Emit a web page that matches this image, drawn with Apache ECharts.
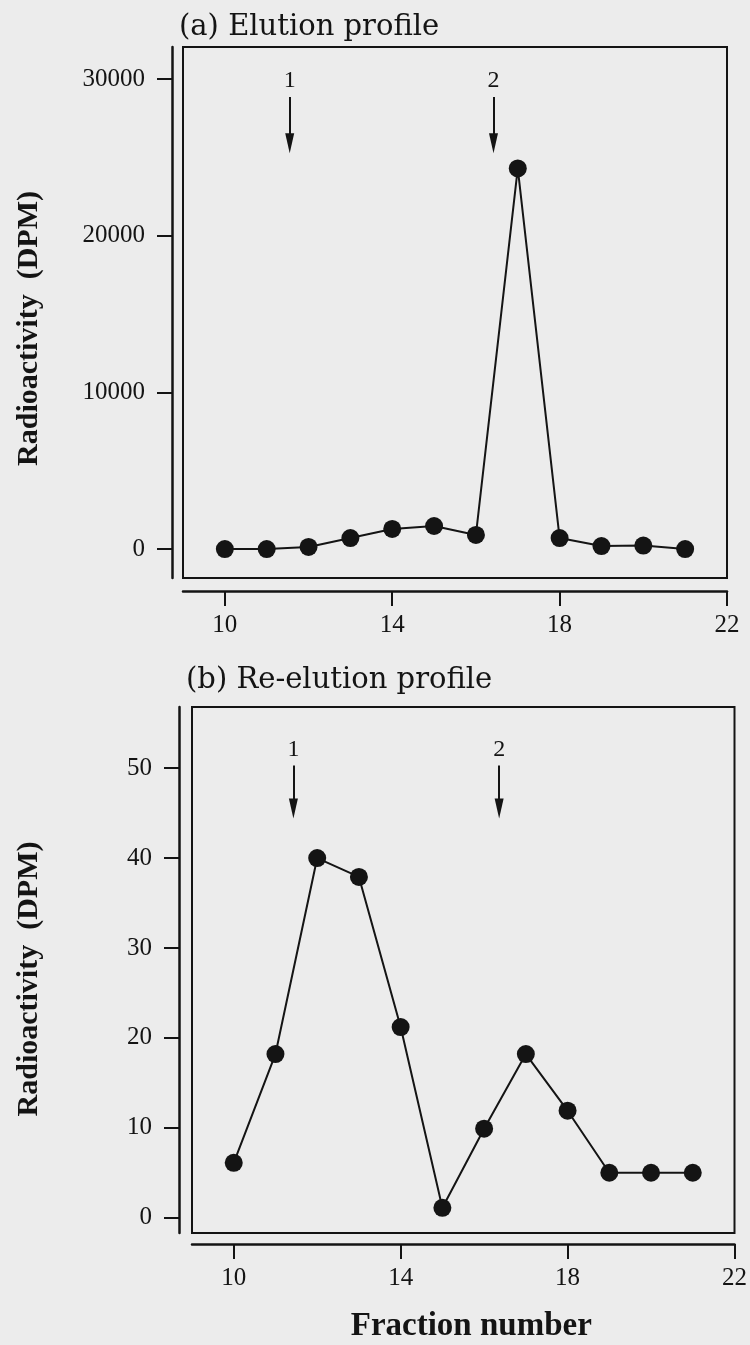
<!DOCTYPE html>
<html><head><meta charset="utf-8">
<script src="https://cdn.jsdelivr.net/npm/echarts@6/dist/echarts.min.js"></script>
<style>html,body{margin:0;padding:0;background:#ececec}#c{width:750px;height:1345px}</style>
</head><body><div id="c"></div>
<script>
const fractions = [10, 11, 12, 13, 14, 15, 16, 17, 18, 19, 20, 21];
const elutionDPM = [0, 0, 130, 700, 1280, 1470, 900, 24300, 700, 190, 220, 0];
const reelutionDPM = [6.1, 18.2, 40, 37.9, 21.2, 1.1, 9.9, 18.2, 11.9, 5, 5, 5];
const xTicks = [10, 14, 18, 22];
const yTicksA = [0, 10000, 20000, 30000];
const yTicksB = [0, 10, 20, 30, 40, 50];
const arrowLabels = ['1', '2'];
const arrowXA = [11.55, 16.42];
const arrowXB = [11.43, 16.36];
const arrowSpanA = [28850, 25900];
const arrowSpanB = [50.3, 45.5];
const titles = ['(a) Elution profile', '(b) Re-elution profile'];
const yName = 'Radioactivity  (DPM)';
const xName = 'Fraction number';

const serif = '"Liberation Serif", "DejaVu Serif", serif';
const wideSerif = '"DejaVu Serif", "Liberation Serif", serif';
const ink = '#141414';

function xAxis(gi, offset, withName) {
  return {
    type: 'value', gridIndex: gi, min: 9, max: 22, offset: offset,
    axisLine: { show: true, onZero: false, lineStyle: { color: ink, width: 2.5 } },
    axisTick: { show: true, inside: false, length: 15, lineStyle: { color: ink, width: 2 }, customValues: xTicks },
    axisLabel: { show: true, margin: 22, color: ink, fontFamily: serif, fontSize: 25, customValues: xTicks, formatter: v => String(v) },
    splitLine: { show: false },
    name: withName ? xName : '', nameLocation: 'middle', nameGap: 66,
    nameTextStyle: { fontFamily: serif, fontSize: 33, fontWeight: 'bold', color: ink, padding: [0, 0, 0, 16] }
  };
}
function yAxis(gi, min, max, ticks, offset, gap, pad) {
  return {
    type: 'value', gridIndex: gi, min: min, max: max, offset: offset,
    axisLine: { show: true, onZero: false, lineStyle: { color: ink, width: 2.5 } },
    axisTick: { show: true, inside: false, length: 15, lineStyle: { color: ink, width: 2 }, customValues: ticks },
    axisLabel: { show: true, margin: 27, color: ink, fontFamily: serif, fontSize: 25, customValues: ticks, formatter: v => String(v) },
    splitLine: { show: false },
    name: yName, nameLocation: 'middle', nameGap: gap,
    nameTextStyle: { fontFamily: serif, fontSize: 30, fontWeight: 'bold', color: ink, padding: [0, pad, 0, 0] }
  };
}
function arrows(xs, span) {
  return {
    silent: true, symbol: ['none', 'triangle'], symbolSize: [9, 20],
    lineStyle: { color: ink, width: 2, type: 'solid' },
    itemStyle: { color: ink },
    label: { show: true, position: 'start', distance: 4, formatter: p => p.name, color: ink, fontFamily: serif, fontSize: 24 },
    data: xs.map((x, i) => [{ coord: [x, span[0]], name: arrowLabels[i] }, { coord: [x, span[1]] }])
  };
}
function series(i, vals, xs, span) {
  return {
    type: 'line', xAxisIndex: i, yAxisIndex: i,
    data: fractions.map((f, k) => [f, vals[k]]),
    symbol: 'circle', symbolSize: 18, showSymbol: true,
    lineStyle: { color: ink, width: 2 }, itemStyle: { color: ink },
    animation: false, markLine: arrows(xs, span)
  };
}

const chart = echarts.init(document.getElementById('c'), null, { renderer: 'canvas' });
chart.setOption({
  backgroundColor: '#ececec',
  animation: false,
  title: [
    { text: titles[0], left: 174, top: 8, textStyle: { fontFamily: wideSerif, fontSize: 29, fontWeight: 'normal', color: ink } },
    { text: titles[1], left: 181, top: 661, textStyle: { fontFamily: wideSerif, fontSize: 29, fontWeight: 'normal', color: ink } }
  ],
  grid: [
    { left: 183, right: 23, top: 47, height: 531, show: true, borderColor: ink, borderWidth: 2, backgroundColor: 'transparent' },
    { left: 192, right: 15, top: 707, height: 526, show: true, borderColor: ink, borderWidth: 2, backgroundColor: 'transparent' }
  ],
  xAxis: [xAxis(0, 13, false), xAxis(1, 11, true)],
  yAxis: [yAxis(0, -1850, 32050, yTicksA, 11, 128, 32), yAxis(1, -1.7, 56.8, yTicksB, 13, 135, 18)],
  series: [series(0, elutionDPM, arrowXA, arrowSpanA), series(1, reelutionDPM, arrowXB, arrowSpanB)]
});
</script></body></html>
